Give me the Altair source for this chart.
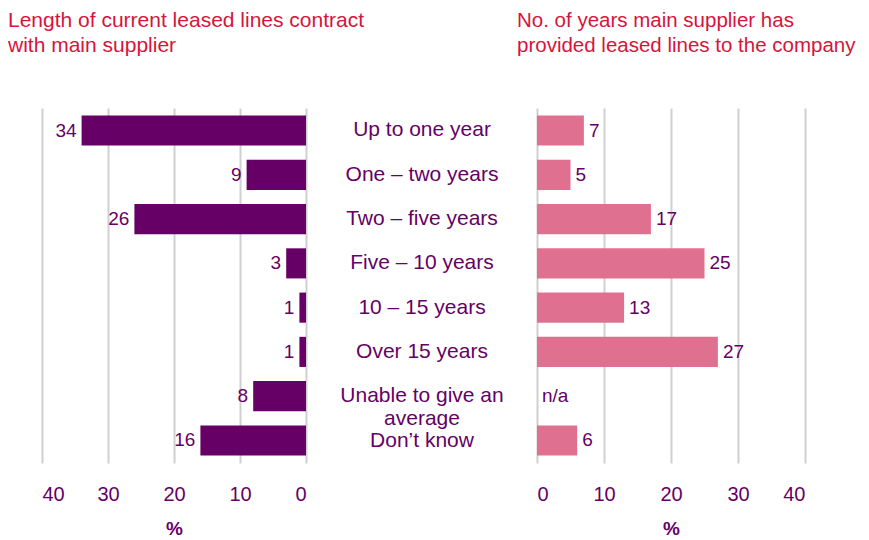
import altair as alt
import pandas as pd

categories = ["Up to one year", "One – two years", "Two – five years", "Five – 10 years",
              "10 – 15 years", "Over 15 years", "Unable to give an\naverage", "Don’t know"]
contract_values = [34, 9, 26, 3, 1, 1, 8, 16]
supplier_values = [7, 5, 17, 25, 13, 27, None, 6]

left_title = ["Length of current leased lines contract", "with main supplier"]
right_title = ["No. of years main supplier has", "provided leased lines to the company"]

PURPLE = "#660066"
PINK = "#E07090"
RED = "#D6143C"
GRID = "#D0D0D0"
FONT = "Liberation Sans"

df = pd.DataFrame({
    "cat": categories,
    "order": list(range(len(categories))),
    "left": contract_values,
    "right": [v if v is not None else 0 for v in supplier_values],
    "right_label": [str(v) if v is not None else "n/a" for v in supplier_values],
    "has_right": [v is not None for v in supplier_values],
})

H = 355
yenc = alt.Y("cat:N", sort=categories, axis=None,
             scale=alt.Scale(paddingInner=0.32, paddingOuter=0.17))

def xaxis():
    return alt.Axis(values=[0, 10, 20, 30, 40], grid=True, gridColor=GRID, gridWidth=2,
                    domain=False, ticks=False, labelPadding=21, labelFontSize=20,
                    labelColor=PURPLE, labelFont=FONT, title="%", titleFontSize=19,
                    titleColor=PURPLE, titleFont=FONT, titleFontWeight="bold",
                    titlePadding=15)

def title(lines, dx, size):
    return alt.TitleParams(lines, anchor="start", dx=dx, fontSize=size, font=FONT,
                           color=RED, fontWeight="normal", offset=52, lineHeight=25)

left_base = alt.Chart(df).encode(
    y=yenc,
    x=alt.X("left:Q", scale=alt.Scale(domain=[0, 40], reverse=True), axis=xaxis()),
)
left = alt.layer(
    left_base.mark_bar(color=PURPLE),
    left_base.mark_text(align="right", dx=-5, fontSize=19, font=FONT, color=PURPLE).encode(
        text="left:Q"),
).properties(width=264, height=H, title=title(left_title, -34, 21))

middle = alt.Chart(df).mark_text(fontSize=21, font=FONT, color=PURPLE, lineBreak="\n",
                                 lineHeight=23).encode(
    y=yenc, x=alt.value(116), text="cat:N"
).properties(width=231, height=H)

right_base = alt.Chart(df).encode(
    y=yenc,
    x=alt.X("right:Q", scale=alt.Scale(domain=[0, 40]), axis=xaxis()),
)
right = alt.layer(
    right_base.mark_bar(color=PINK).transform_filter("datum.has_right"),
    right_base.mark_text(align="left", dx=5, fontSize=19, font=FONT, color=PURPLE).encode(
        text="right_label:N"),
).properties(width=268, height=H, title=title(right_title, -20, 20.5))

chart = alt.hconcat(left, middle, right, spacing=0, bounds="flush").properties(
    padding={"left": 0, "top": 2, "right": 0, "bottom": 0}
).configure_view(stroke=None)

chart.save("out.html", embed_options={"renderer": "svg", "actions": False})
